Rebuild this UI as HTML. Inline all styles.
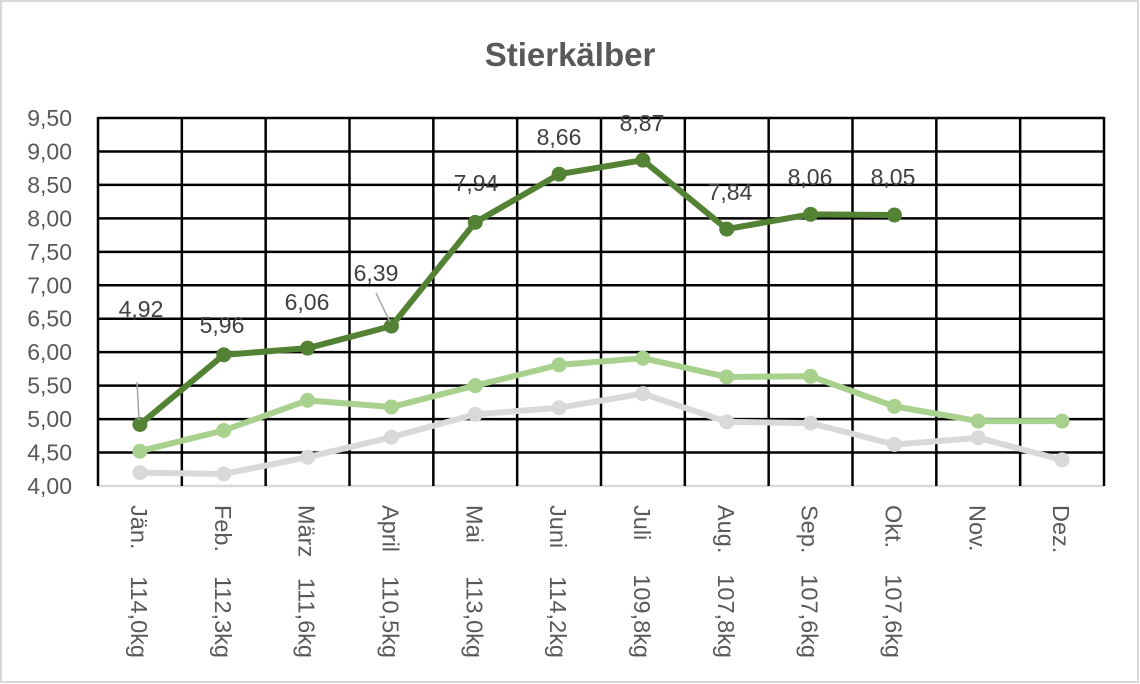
<!DOCTYPE html>
<html><head><meta charset="utf-8"><style>
html,body{margin:0;padding:0;background:#fff;}
svg{display:block;}
text{font-family:"Liberation Sans",Arial,sans-serif;}
</style></head><body>
<svg width="1140" height="684" viewBox="0 0 1140 684" xmlns="http://www.w3.org/2000/svg">
<rect x="1" y="1" width="1137" height="681" fill="#fff" stroke="#d9d9d9" stroke-width="2"/>
<text x="570" y="66" text-anchor="middle" font-size="33" font-weight="bold" fill="#595959">Stierkälber</text>
<g id="grid" stroke="#000" stroke-width="2.5"></g>
<g id="ylab" font-size="23" fill="#595959" text-anchor="end"></g>
<g id="xlab" font-size="23.5" fill="#595959"></g>
<g id="series"></g>
<g id="dl" font-size="23" fill="#404040" text-anchor="middle"></g>
</svg>
<script>
var L=98,R=1104,T=118,B=486,cw=(R-L)/12,ns="http://www.w3.org/2000/svg";
function el(p,n,a,t){var e=document.createElementNS(ns,n);for(var k in a)e.setAttribute(k,a[k]);if(t!=null)e.textContent=t;document.getElementById(p).appendChild(e);return e;}
function Y(v){return B-(v-4)*(B-T)/5.5;}
function X(i){return L+cw*(i+0.5);}
for(var i=0;i<=11;i++){var y=Y(4+i*0.5);if(i>0)el('grid','line',{x1:L,x2:R,y1:y,y2:y});el('ylab','text',{x:72,y:y+8},(4+i*0.5).toFixed(2).replace('.',','));}
el('grid','line',{x1:L,x2:R,y1:B,y2:B,stroke:'#d9d9d9'});
for(var i=0;i<=12;i++){var x=L+cw*i;el('grid','line',{x1:x,x2:x,y1:T-1,y2:B});}
var labs=[["Jän.","114,0kg"],["Feb.","112,3kg"],["März","111,6kg"],["April","110,5kg"],["Mai","113,0kg"],["Juni","114,2kg"],["Juli","109,8kg"],["Aug.","107,8kg"],["Sep.","107,6kg"],["Okt.","107,6kg"],["Nov.",""],["Dez.",""]];
labs.forEach(function(s,i){var x=X(i)-1;
el('xlab','text',{transform:'translate('+x+',505) rotate(90)','dominant-baseline':'central'},s[0]);
if(s[1])el('xlab','text',{transform:'translate('+x+',658) rotate(90)','dominant-baseline':'central','text-anchor':'end'},s[1]);});
var S=[[ "#d9d9d9",[4.20,4.18,4.43,4.73,5.07,5.17,5.38,4.96,4.94,4.62,4.72,4.39]],
["#a9d18e",[4.52,4.83,5.28,5.18,5.50,5.81,5.91,5.63,5.64,5.19,4.97,4.97]],
["#548235",[4.92,5.96,6.06,6.39,7.94,8.66,8.87,7.84,8.06,8.05]]];
S.forEach(function(s){var pts=s[1].map(function(v,i){return X(i)+','+Y(v);}).join(' ');el('series','polyline',{points:pts,fill:'none',stroke:s[0],'stroke-width':6,'stroke-linejoin':'round'});s[1].forEach(function(v,i){el('series','circle',{cx:X(i),cy:Y(v),r:7.5,fill:s[0]});});});
el('series','line',{x1:137,y1:382,x2:139,y2:420,stroke:'#a6a6a6','stroke-width':1.5});
el('series','line',{x1:376,y1:293,x2:390,y2:322,stroke:'#a6a6a6','stroke-width':1.5});
var D=[["4,92",141,309],["5,96",222,325],["6,06",307,302],["6,39",376,273],["7,94",476,183],["8,66",559,137],["8,87",642,123],["7,84",730,192],["8,06",810,177],["8,05",893,177]];
D.forEach(function(d){el('dl','text',{x:d[1],y:d[2]+8},d[0]);});
</script>
</body></html>
